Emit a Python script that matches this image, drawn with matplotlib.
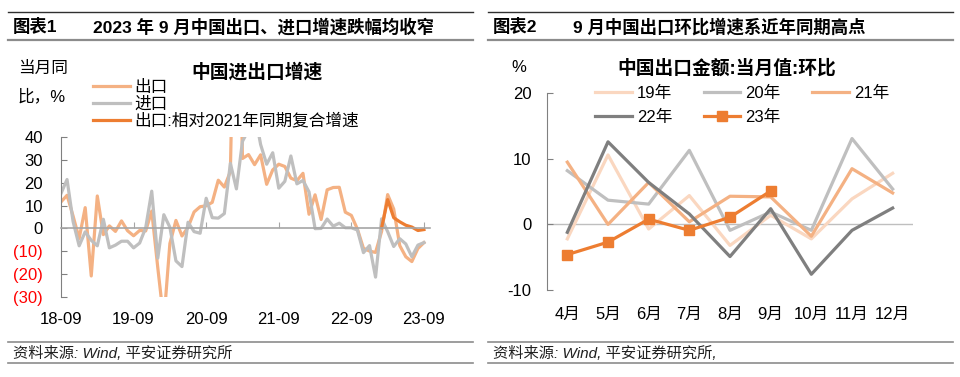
import numpy as np
import matplotlib
matplotlib.use('Agg')
import matplotlib.pyplot as plt
from matplotlib.lines import Line2D

plt.rcParams['font.family'] = ['Liberation Sans', 'Noto Sans CJK SC']
plt.rcParams['axes.unicode_minus'] = False

# 图表1: 月度同比, 2018-09 .. 2023-09
export_yoy = [11.6, 14.5, 5.4, -4.4, 9.1, -20.8, 14.2, -2.7, 1.1, -1.3, 3.3, -1.0, -3.2,
              -0.9, -1.1, 7.6, -17.2, -40.6, -6.6, 3.5, -3.3, 0.5, 7.2, 9.5, 9.9,
              11.4, 21.1, 18.1, 24.9, 154.9, 30.6, 32.3, 27.9, 32.2, 19.3, 25.6, 28.1,
              27.1, 22.0, 20.9, 24.1, 6.2, 14.7, 3.9, 16.9, 17.9, 18.0, 7.1, 5.7,
              -0.3, -8.7, -9.9, -10.5, -1.3, 14.8, 8.5, -7.5, -12.4, -14.5, -8.8, -6.2]
import_yoy = [15.3, 21.4, 3.0, -7.6, -1.5, -5.2, -7.6, 4.0, -8.5, -7.3, -5.6, -5.6, -8.5,
              -6.4, 0.3, 16.3, -13.0, 6.0, 0.5, -14.2, -16.7, 2.7, -1.4, -2.1, 13.2,
              4.7, 4.5, 6.5, 28.5, 17.3, 38.1, 43.1, 51.1, 36.7, 28.1, 33.1, 17.6,
              20.6, 31.7, 19.5, 21.0, 16.0, -0.1, 0.0, 4.1, 1.0, 2.3, 0.3, 0.3,
              -0.7, -10.6, -7.5, -21.3, 4.2, -1.4, -7.9, -4.5, -6.8, -12.4, -7.3, -6.2]
compound_2021 = [np.nan] * 53 + [0.3, 12.6, 4.7, 2.9, 1.4, 0.6, -0.9, -0.5]
x_ticks_left = [0, 12, 24, 36, 48, 60]
x_labels_left = ['18-09', '19-09', '20-09', '21-09', '22-09', '23-09']

# 图表2: 出口金额环比
months = ['4月', '5月', '6月', '7月', '8月', '9月', '10月', '11月', '12月']
y19 = [-2.2, 10.6, -0.7, 4.4, -3.2, 1.4, -2.2, 3.9, 7.8]
y20 = [8.2, 3.7, 3.1, 11.3, -0.9, 1.9, -0.9, 13.1, 5.4]
y21 = [9.5, 0.0, 6.4, 0.4, 4.3, 4.2, -1.8, 8.5, 4.8]
y22 = [-1.2, 12.6, 6.4, 1.6, -4.9, 2.4, -7.6, -0.9, 2.5]
y23 = [-4.6, -2.7, 0.8, -0.9, 1.1, 5.1]

W, H = 960, 377
def fx(px):
    return px / W
def fy(py):
    return 1 - py / H

fig = plt.figure(figsize=(9.6, 3.77), dpi=100)

# 表头/表尾的横线
for x0, x1 in [(8, 473), (488, 953)]:
    fig.add_artist(Line2D([fx(x0), fx(x1)], [fy(12), fy(12)], color='#303030', lw=1.0))
    fig.add_artist(Line2D([fx(x0), fx(x1)], [fy(40), fy(40)], color='#8C8C8C', lw=1.6))
    fig.add_artist(Line2D([fx(x0), fx(x1)], [fy(342), fy(342)], color='#8C8C8C', lw=1.2))
    fig.add_artist(Line2D([fx(x0), fx(x1)], [fy(363), fy(363)], color='#8C8C8C', lw=1.2))

fig.text(fx(13), fy(27), '图表1', fontsize=12.5, fontweight='bold', va='center')
fig.text(fx(93), fy(27), '2023 年 9 月中国出口、进口增速跌幅均收窄', fontsize=12.5,
         fontweight='bold', va='center')
fig.text(fx(493), fy(27), '图表2', fontsize=12.5, fontweight='bold', va='center')
fig.text(fx(573), fy(27), '9 月中国出口环比增速系近年同期高点', fontsize=12.5,
         fontweight='bold', va='center')
fig.text(fx(13), fy(353), '资料来源: Wind, 平安证券研究所', fontsize=11, style='italic',
         va='center', color='#202020')
fig.text(fx(493), fy(353), '资料来源: Wind, 平安证券研究所,', fontsize=11, style='italic',
         va='center', color='#202020')

# ---- 左图 ----
ax1 = fig.add_axes([fx(61), fy(297), fx(430) - fx(61), fy(137) - fy(297)])
m = np.arange(len(export_yoy))
ax1.plot(m, export_yoy, color='#F4B183', lw=2.3, label='出口')
ax1.plot(m, import_yoy, color='#BFBFBF', lw=2.3, label='进口')
ax1.plot(m, compound_2021, color='#ED7D31', lw=2.3, label='出口:相对2021年同期复合增速')
ax1.set_xlim(0, 61)
ax1.set_ylim(-30, 40)
for s in ['top', 'right']:
    ax1.spines[s].set_visible(False)
ax1.spines['bottom'].set_position(('data', 0))
ax1.spines['bottom'].set_color('#A6A6A6')
ax1.spines['bottom'].set_linewidth(1.2)
ax1.spines['left'].set_color('#808080')
ax1.set_xticks(x_ticks_left)
ax1.set_xticklabels(x_labels_left)
ax1.tick_params(axis='x', direction='in', length=4, color='#A6A6A6', pad=60, labelsize=12)
yv = list(range(-30, 41, 10))
ax1.set_yticks(yv)
ax1.set_yticklabels(['(%d)' % -v if v < 0 else str(v) for v in yv])
ax1.tick_params(axis='y', direction='in', length=4, color='#808080', pad=13, labelsize=12)
for lbl, v in zip(ax1.get_yticklabels(), yv):
    if v < 0:
        lbl.set_color('#FF0000')
ax1.legend(loc='upper left', bbox_to_anchor=(fx(93), fy(80)), bbox_transform=fig.transFigure,
           frameon=False, fontsize=12, handlelength=2.2, handletextpad=0.3,
           labelspacing=0.08, borderpad=0, borderaxespad=0)
fig.text(fx(257), fy(72), '中国进出口增速', ha='center', va='center', fontsize=13.5,
         fontweight='bold')
fig.text(fx(18), fy(68), '当月同', va='center', fontsize=12)
fig.text(fx(18), fy(96), '比，%', va='center', fontsize=12)

# ---- 右图 ----
ax2 = fig.add_axes([fx(547), fy(290), fx(913) - fx(547), fy(93.3) - fy(290)])
xi = np.arange(len(months))
l19, = ax2.plot(xi, y19, color='#FAD7C0', lw=2.3, label='19年')
l20, = ax2.plot(xi, y20, color='#BFBFBF', lw=2.3, label='20年')
l21, = ax2.plot(xi, y21, color='#F4B183', lw=2.3, label='21年')
l22, = ax2.plot(xi, y22, color='#7F7F7F', lw=2.3, label='22年')
l23, = ax2.plot(xi[:len(y23)], y23, color='#ED7D31', lw=2.3, marker='s', markersize=7,
                label='23年')
ax2.axhline(0, color='#BFBFBF', lw=1, zorder=0)
ax2.set_xlim(-0.5, 8.5)
ax2.set_ylim(-10, 20)
for s in ['top', 'right', 'bottom']:
    ax2.spines[s].set_visible(False)
ax2.spines['left'].set_color('#808080')
ax2.set_xticks(xi)
ax2.set_xticklabels(months)
ax2.tick_params(axis='x', length=0, pad=12, labelsize=12)
ax2.set_yticks([-10, 0, 10, 20])
ax2.tick_params(axis='y', direction='in', length=4, color='#808080', pad=11, labelsize=12)
ax2.legend(handles=[l19, l22, l20, l23, l21], ncol=3, loc='upper left',
           bbox_to_anchor=(fx(595), fy(86)), bbox_transform=fig.transFigure,
           frameon=False, fontsize=12, handlelength=2.2, handletextpad=0.3,
           columnspacing=1.9, labelspacing=0.5, borderpad=0, borderaxespad=0)
fig.text(fx(519), fy(68), '%', ha='center', va='center', fontsize=12)
fig.text(fx(727), fy(68), '中国出口金额:当月值:环比', ha='center', va='center',
         fontsize=13.5, fontweight='bold')

fig.savefig('out.png', dpi=100)
